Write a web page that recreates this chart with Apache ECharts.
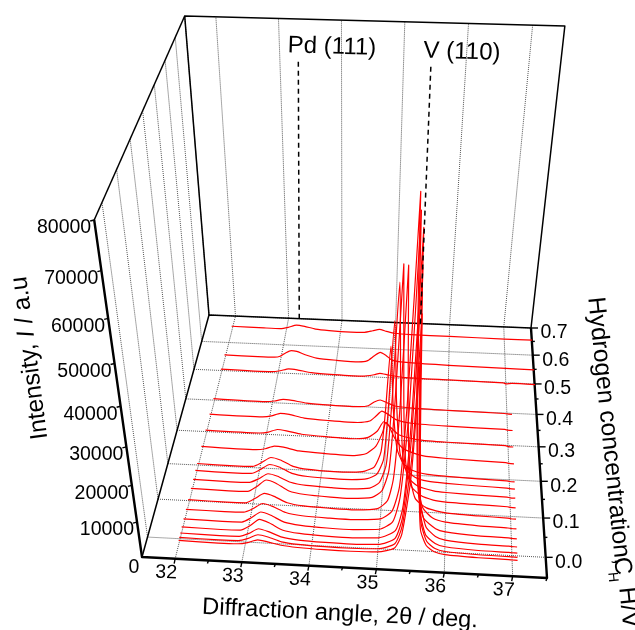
<!DOCTYPE html>
<html><head><meta charset="utf-8">
<style>html,body{margin:0;padding:0;background:#fff}#c{width:635px;height:630px}</style>
<script src="https://cdn.jsdelivr.net/npm/echarts@6/dist/echarts.min.js"></script>
</head><body><div id="c"></div>
<script>
// Tick labels
const angleTicks = [32,33,34,35,36,37];
const concTicks = [0,0.1,0.2,0.3,0.4,0.5,0.6,0.7];
const intensityTicks = [10000,20000,30000,40000,50000,60000,70000,80000];
// Axis ranges
const angleRange = [31.5,37.5];
const concRange = [-0.05,0.7];
const intensityMax = 80000;
// Hydrogen concentration of each pattern, back to front
const concentrations = [0.645,0.54,0.49,0.39,0.34,0.29,0.24,0.19,0.17,0.145,0.12,0.09,0.065,0.04,0.02,0.005,-0.005,-0.012];
// Diffraction patterns as [2theta, intensity], back to front
const p01=[[32,1300],[32.6,1200],[32.9,1200],[33.05,1700],[33.2,2500],[33.35,2200],[33.55,1500],[33.8,1200],[34.2,1000],[34.45,1100],[34.6,1700],[34.72,2200],[34.85,1700],[35,1200],[35.3,1000],[36,900],[37,800],[37.5,800]];
const p02=[[32,1300],[32.6,1200],[32.9,1250],[33.0,1600],[33.1,2700],[33.2,3500],[33.3,3300],[33.45,2400],[33.65,1500],[34,1100],[34.4,900],[34.55,1300],[34.68,3000],[34.78,4100],[34.88,3300],[35,1800],[35.3,1300],[36,1000],[37,800],[37.5,700]];
const p03=[[32,1300],[32.9,1200],[33.05,1600],[33.2,2300],[33.35,2100],[33.6,1400],[34,1100],[34.5,1000],[34.7,1600],[34.8,2100],[34.95,1700],[35.2,1200],[36,1000],[36.95,800],[37,550],[37.1,800],[37.5,700]];
const p04=[[32,1400],[32.9,1200],[33.05,1500],[33.2,2100],[33.35,1900],[33.6,1300],[34,1000],[34.5,900],[34.65,1300],[34.75,2500],[34.85,3200],[34.95,2600],[35.1,1600],[35.4,1200],[36,1000],[36.95,800],[37,700],[37.08,650]];
const p05=[[32,1400],[32.9,1300],[33.05,1700],[33.2,2600],[33.35,2400],[33.6,1500],[34,1100],[34.5,900],[34.7,1500],[34.8,3000],[34.9,4600],[35,3800],[35.15,2200],[35.4,1400],[36,1000],[36.95,800],[37,650],[37.08,600]];
const p06=[[32,1400],[32.9,1300],[33.05,1700],[33.2,2600],[33.35,2300],[33.6,1500],[34,1100],[34.5,900],[34.7,1500],[34.85,3500],[34.95,6300],[35.05,5000],[35.2,2700],[35.5,1500],[36,1100],[36.95,900],[37,650],[37.08,600]];
const p07=[[32,1500],[32.9,1300],[33.05,1700],[33.2,2600],[33.35,2400],[33.6,1500],[34,1100],[34.5,900],[34.7,1700],[34.85,4000],[34.95,8000],[35,11000],[35.05,10000],[35.15,6500],[35.3,3500],[35.6,1800],[36,1300],[36.95,900],[37,700],[37.08,650]];
const p08=[[32,1500],[32.6,1300],[32.9,1400],[33.05,2700],[33.2,4300],[33.35,3700],[33.55,2000],[33.8,1300],[34.2,1000],[34.5,1100],[34.7,1600],[34.85,3000],[34.95,7500],[35,18000],[35.06,36000],[35.12,20000],[35.2,8500],[35.3,4500],[35.45,2500],[35.7,1500],[36,1200],[36.5,900],[36.95,700],[37,550],[37.08,500]];
const p09=[[32,1500],[32.6,1300],[32.9,1400],[33.05,2700],[33.2,4300],[33.35,3700],[33.55,2000],[33.8,1300],[34.2,1000],[34.5,1000],[34.75,1500],[34.9,3000],[35,7500],[35.05,21000],[35.11,44000],[35.17,24000],[35.25,9500],[35.35,4800],[35.5,2600],[35.7,1600],[36,1200],[36.5,900],[36.95,700],[37,550],[37.08,500]];
const p10=[[32,1500],[32.6,1300],[32.9,1400],[33.05,2600],[33.2,4200],[33.35,3600],[33.55,2000],[33.8,1300],[34.2,1000],[34.5,900],[34.8,1400],[34.95,3200],[35.05,8500],[35.11,26000],[35.17,55000],[35.23,30000],[35.3,11000],[35.4,5000],[35.55,2700],[35.8,1500],[36,1200],[36.5,900],[36.95,700],[37,550],[37.08,500]];
const p11=[[32,1500],[32.6,1300],[32.9,1400],[33.05,3000],[33.2,5000],[33.35,4200],[33.55,2100],[33.8,1300],[34.2,900],[34.5,800],[34.85,1400],[35,3500],[35.1,9500],[35.16,28000],[35.22,61000],[35.28,32000],[35.35,12000],[35.45,5200],[35.6,2700],[35.8,1500],[36,1100],[36.5,800],[36.95,600],[37,450],[37.08,400]];
const p12=[[32,1400],[32.6,1200],[32.9,1300],[33.05,2700],[33.2,4300],[33.35,3600],[33.55,1900],[33.8,1200],[34.2,900],[34.6,800],[34.95,1500],[35.1,4000],[35.18,10500],[35.24,29000],[35.29,63000],[35.35,33000],[35.42,12000],[35.52,5000],[35.7,2400],[36,1200],[36.5,800],[36.95,600],[37,450],[37.08,400]];
const p13=[[32,1300],[32.6,1200],[32.9,1300],[33.05,2500],[33.2,4100],[33.35,3400],[33.55,1800],[33.8,1100],[34.2,800],[34.6,700],[35,1300],[35.18,3800],[35.28,11000],[35.35,35000],[35.41,80000],[35.47,38000],[35.54,13000],[35.64,5200],[35.8,2300],[36,1300],[36.5,700],[36.95,500],[37,400],[37.08,350]];
const p14=[[32,1300],[32.6,1100],[32.9,1200],[33.05,2600],[33.2,4400],[33.35,3600],[33.55,1800],[33.8,1100],[34.2,700],[34.6,600],[35,1100],[35.2,3500],[35.3,11000],[35.38,34000],[35.43,78000],[35.49,37000],[35.56,12500],[35.66,5000],[35.85,2100],[36,1300],[36.5,600],[36.95,450],[37,350],[37.08,300]];
const p15=[[32,1200],[32.6,1000],[32.9,1100],[33.05,2500],[33.2,4500],[33.35,3600],[33.55,1700],[33.8,1000],[34.2,600],[34.6,500],[35,900],[35.25,3300],[35.35,10500],[35.42,34000],[35.47,76000],[35.53,36000],[35.6,12000],[35.7,4800],[35.85,2100],[36,1200],[36.5,500],[36.95,350],[37,300],[37.08,250]];
const p16=[[32,1100],[32.6,900],[32.9,1000],[33.05,2000],[33.2,3500],[33.35,2800],[33.55,1400],[33.8,800],[34.2,500],[34.6,400],[35,700],[35.25,2700],[35.35,9000],[35.43,30000],[35.48,69000],[35.54,33000],[35.6,11000],[35.7,4200],[35.85,1800],[36,1000],[36.5,400],[36.95,300],[37,250],[37.08,200]];
const p17=[[32,1000],[32.6,800],[32.9,900],[33.05,1700],[33.2,2900],[33.35,2400],[33.55,1200],[33.8,700],[34.2,400],[34.6,350],[35,600],[35.25,2300],[35.35,7500],[35.45,27000],[35.5,60000],[35.56,28000],[35.62,9000],[35.72,3500],[35.85,1500],[36,800],[36.5,350],[36.95,250],[37,200],[37.08,150]];
const p18=[[32,900],[32.6,700],[32.9,800],[33.05,1300],[33.2,2200],[33.35,1800],[33.55,1000],[33.8,600],[34.2,350],[34.6,300],[35,500],[35.25,1900],[35.35,6000],[35.45,22000],[35.5,50000],[35.56,23000],[35.62,7500],[35.72,3000],[35.85,1300],[36,700],[36.5,300],[36.95,200],[37,150],[37.08,120]];
const patterns=[p01,p02,p03,p04,p05,p06,p07,p08,p09,p10,p11,p12,p13,p14,p15,p16,p17,p18];
// Peak marker lines as [2theta, intensity] on the back wall
const pdMarker=[[33.2,0],[33.3,70600]];
const vMarker=[[35.46,0],[35.44,70200]];

// Perspective box: floor corners in page space plus the vertical vanishing point
const floorA=[142,557],floorB=[547,578],floorC=[531,328],floorD=[209,315];
const vanish=[345,1988],zScale=-0.1906;
const [x0,y0]=floorA,[x1,y1]=floorB,[x2,y2]=floorC,[x3,y3]=floorD;
const dx1=x1-x2,dx2=x3-x2,sx=x0-x1+x2-x3,dy1=y1-y2,dy2=y3-y2,sy=y0-y1+y2-y3;
const den=dx1*dy2-dx2*dy1,g=(sx*dy2-dx2*sy)/den,h=(dx1*sy-sx*dy1)/den;
const ha=x1-x0+g*x1,hb=x3-x0+h*x3,hd=y1-y0+g*y1,he=y3-y0+h*y3;
function project(angle,conc,intensity){
  const u=(angle-angleRange[0])/(angleRange[1]-angleRange[0]);
  const v=(conc-concRange[0])/(concRange[1]-concRange[0]);
  const z=zScale*intensity/intensityMax;
  const w=g*u+h*v+1+z;
  return [(ha*u+hb*v+x0+z*vanish[0])/w,(hd*u+he*v+y0+z*vanish[1])/w];
}
const [aMin,aMax]=angleRange,[cMin,cMax]=concRange;
function path(points,color,width,type){
  return {type:'line',data:points,showSymbol:false,symbol:'none',silent:true,animation:false,z:2,
    lineStyle:{color:color,width:width,type:type||'solid',cap:'butt',join:'round'}};
}
const series=[];
const gridColor='#555',gridDash=[1,1];
// walls and floor gridlines
angleTicks.forEach(a=>{
  series.push(path([project(a,cMax,0),project(a,cMax,intensityMax)],gridColor,1,gridDash));
  series.push(path([project(a,cMin,0),project(a,cMax,0)],gridColor,1,gridDash));
});
concTicks.forEach(c=>{
  series.push(path([project(aMin,c,0),project(aMin,c,intensityMax)],gridColor,1,gridDash));
  series.push(path([project(aMin,c,0),project(aMax,c,0)],gridColor,1,gridDash));
});
// frame
const thin=1.5,bold=2.4;
series.push(path([project(aMin,cMax,0),project(aMin,cMax,intensityMax),project(aMax,cMax,intensityMax),project(aMax,cMax,0)],'#000',thin));
series.push(path([project(aMin,cMin,intensityMax),project(aMin,cMax,intensityMax)],'#000',thin));
series.push(path([project(aMin,cMin,0),project(aMin,cMax,0),project(aMax,cMax,0)],'#000',thin));
series.push(path([project(aMin,cMin,intensityMax),project(aMin,cMin,0),project(aMax,cMin,0),project(aMax,cMax,0)],'#000',bold));
// axis ticks
for(let a=32;a<=37.5;a+=0.5){
  const p=project(a,cMin,0),len=Number.isInteger(a)?5:3;
  series.push(path([p,[p[0]-1,p[1]+len]],'#000',1.4));
}
for(let i=0;i<=14;i++){
  const c=i*0.05,p=project(aMax,c,0),len=i%2===0?7:3;
  series.push(path([p,[p[0]+len,p[1]]],'#000',1.4));
}
intensityTicks.forEach(t=>{const p=project(aMin,cMin,t);series.push(path([p,[p[0]-4,p[1]+1]],'#000',1.4));});
// patterns
patterns.forEach((pat,i)=>{
  const s=path(pat.map(d=>project(d[0],concentrations[i],d[1])),'#ff0000',1.2);
  s.smooth=0.2;s.z=3;
  series.push(s);
});
// markers
[pdMarker,vMarker].forEach(m=>{
  const s=path(m.map(d=>project(d[0],cMax,d[1])),'#000',1.5,[5,4]);s.z=4;series.push(s);
});

// text
const font='"Liberation Sans",Arial,sans-serif';
const texts=[];
function label(t,x,y,size,rot,align,extra){
  texts.push({type:'text',x:x,y:y,rotation:rot||0,silent:true,z:10,
    style:Object.assign({text:t,font:size+'px '+font,fontFamily:'Liberation Sans',fontSize:size,fill:'#000',align:align||'center',verticalAlign:'middle'},extra||{})});
}
angleTicks.forEach(a=>{const p=project(a,cMin,0);label(String(a),p[0]-9,p[1]+14,19.5,-0.05);});
concTicks.forEach(c=>{const p=project(aMax,c,0);label(c.toFixed(1),p[0]+23,p[1]+5,19.5);});
intensityTicks.forEach(t=>{const p=project(aMin,cMin,t);label(String(t),p[0]-3,p[1]+8,19.5,0,'right');});
label('0',134,568,19.5);
label('Diffraction angle, 2θ / deg.',340,614,23.7,-0.05);
label('Pd (111)',332,47,24,-0.03);
label('V (110)',462,52,24,-0.03);
const rich={a:{fontFamily:'Liberation Sans',fontSize:24.5,fill:'#000'},i:{fontFamily:'Liberation Sans',fontStyle:'italic',fontSize:24.5,fill:'#000'}};
label('{a|Intensity, }{i|I}{a| / a.u}',30,358,1,1.70,'center',{rich:rich});
label('Hydrogen concentration,',595,297,24.7,-1.47,'left');
label('C',621,557,24.7,-1.47,'left');
label('H',612,572,14,-1.47,'left');
label('H/V',626,587,24.7,-1.47,'left');

const chart=echarts.init(document.getElementById('c'),null,{renderer:'canvas',width:635,height:630});
chart.setOption({
  animation:false,backgroundColor:'#fff',
  grid:{left:0,right:0,top:0,bottom:0},
  xAxis:{type:'value',min:0,max:635,show:false},
  yAxis:{type:'value',min:0,max:630,inverse:true,show:false},
  series:series,
  graphic:{elements:texts}
});
</script></body></html>
